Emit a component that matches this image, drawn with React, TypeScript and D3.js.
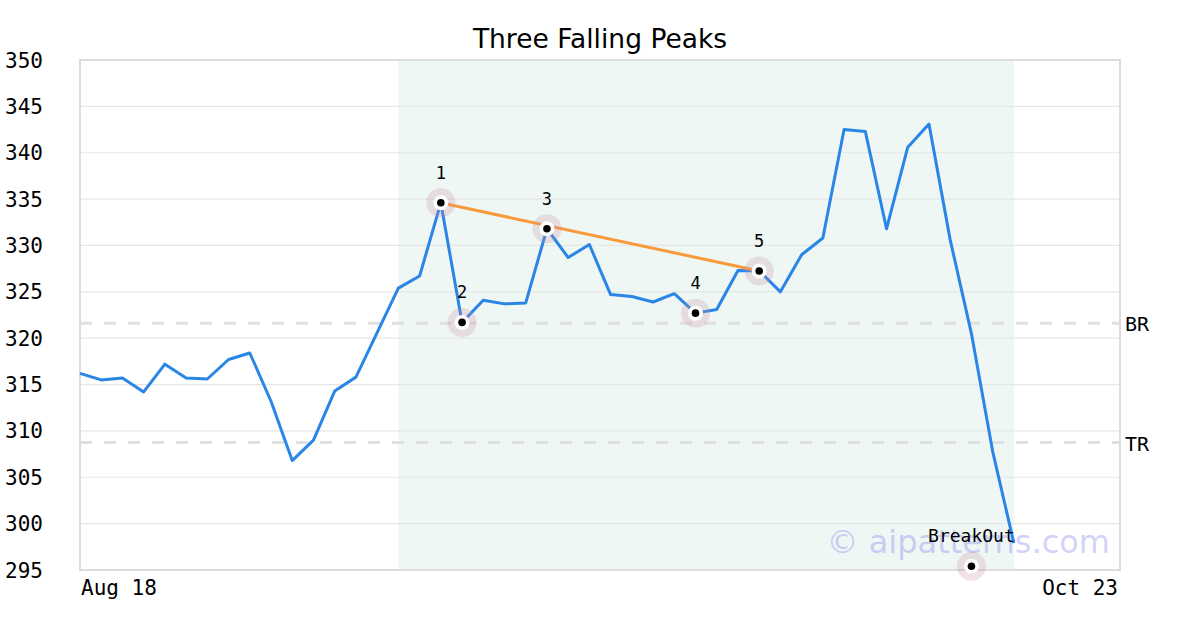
import React from "react";
import * as d3 from "d3";

const title = "Three Falling Peaks";
const prices = [
  316.2, 315.5, 315.7, 314.2, 317.2, 315.7, 315.6, 317.7, 318.4, 313.2,
  306.8, 309.0, 314.3, 315.8, 320.6, 325.4, 326.7, 334.6, 321.7, 324.1,
  323.7, 323.8, 331.8, 328.7, 330.1, 324.7, 324.5, 323.9, 324.8, 322.7,
  323.1, 327.3, 327.25, 325.0, 329.0, 330.8, 342.5, 342.3, 331.8, 340.6,
  343.1, 330.6, 320.5, 307.8, 297.9,
];
const totalSlots = 50; // x-axis spans Aug 18 .. Oct 23
const xLabels = ["Aug 18", "Oct 23"];
const yTicks = [295, 300, 305, 310, 315, 320, 325, 330, 335, 340, 345, 350];
const patternRange = [15, 44];
const pivotIdx = [17, 18, 22, 29, 32];
const pivotLabels = ["1", "2", "3", "4", "5"];
const trendIdx = [17, 32];
const breakout = { idx: 42, value: 295.4, label: "BreakOut" };
const levels = [
  { name: "BR", value: 321.6 },
  { name: "TR", value: 308.75 },
];
const watermark = "© aipatterns.com";

const W = 1200, H = 630;
const L = 80, R = 1120, T = 60, B = 570;
const mono = "'DejaVu Sans Mono', monospace";
const sans = "'DejaVu Sans', sans-serif";

export default function App() {
  const x = d3.scaleLinear().domain([0, totalSlots - 1]).range([L, R]);
  const y = d3.scaleLinear().domain([295, 350]).range([B, T]);
  const line = d3
    .line<number>()
    .x((_, i) => x(i))
    .y((d) => y(d));

  const markers = pivotIdx.map((i, k) => ({ cx: x(i), cy: y(prices[i]), label: pivotLabels[k] }));
  const Marker = ({ cx, cy }: { cx: number; cy: number }) => (
    <g>
      <circle cx={cx} cy={cy} r={14.5} fill="rgb(205,140,165)" fillOpacity={0.25} />
      <circle cx={cx} cy={cy} r={7.5} fill="#fff" />
      <circle cx={cx} cy={cy} r={3.8} fill="#000" />
    </g>
  );

  return (
    <svg
      width={W}
      height={H}
      style={{ position: "absolute", left: 0, top: 0, background: "#fff" }}
    >
      <rect x={0} y={0} width={W} height={H} fill="#fff" />
      <text x={600} y={48} textAnchor="middle" fontFamily={sans} fontSize={26.5} fill="#000">
        {title}
      </text>
      <rect
        x={x(patternRange[0])}
        y={T}
        width={x(patternRange[1]) - x(patternRange[0])}
        height={B - T}
        fill="#eef7f3"
      />
      {yTicks.map((t) => (
        <g key={t}>
          <line x1={L} x2={R} y1={y(t)} y2={y(t)} stroke="#e6e6e6" strokeWidth={1.2} />
          <text x={5} y={y(t) + 7.5} fontFamily={mono} fontSize={21} fill="#000">
            {t}
          </text>
        </g>
      ))}
      {levels.map((lv) => (
        <g key={lv.name}>
          <line
            x1={L}
            x2={R}
            y1={y(lv.value)}
            y2={y(lv.value)}
            stroke="#e0e0e0"
            strokeWidth={3}
            strokeDasharray="12,12"
          />
          <text x={1125} y={y(lv.value) + 8} fontFamily={mono} fontSize={20} fill="#000">
            {lv.name}
          </text>
        </g>
      ))}
      <rect x={L} y={T} width={R - L} height={B - T} fill="none" stroke="#dddddd" strokeWidth={2} />
      <text x={L + 1} y={595} fontFamily={mono} fontSize={21} fill="#000">
        {xLabels[0]}
      </text>
      <text x={R - 2} y={595} textAnchor="end" fontFamily={mono} fontSize={21} fill="#000">
        {xLabels[1]}
      </text>
      <text
        x={1110}
        y={553}
        textAnchor="end"
        fontFamily={sans}
        fontSize={32}
        fill="rgb(100,100,240)"
        fillOpacity={0.3}
      >
        {watermark}
      </text>
      <path d={line(prices) || ""} fill="none" stroke="#2a86e6" strokeWidth={3} strokeLinejoin="round" />
      <line
        x1={x(trendIdx[0])}
        y1={y(prices[trendIdx[0]])}
        x2={x(trendIdx[1])}
        y2={y(prices[trendIdx[1]])}
        stroke="#f89a3c"
        strokeWidth={3}
      />
      {markers.map((m) => (
        <g key={m.label}>
          <Marker cx={m.cx} cy={m.cy} />
          <text x={m.cx} y={m.cy - 24} textAnchor="middle" fontFamily={mono} fontSize={17} fill="#000">
            {m.label}
          </text>
        </g>
      ))}
      <Marker cx={x(breakout.idx)} cy={y(breakout.value)} />
      <text
        x={x(breakout.idx)}
        y={y(breakout.value) - 24.5}
        textAnchor="middle"
        fontFamily={mono}
        fontSize={18}
        fill="#000"
      >
        {breakout.label}
      </text>
    </svg>
  );
}
